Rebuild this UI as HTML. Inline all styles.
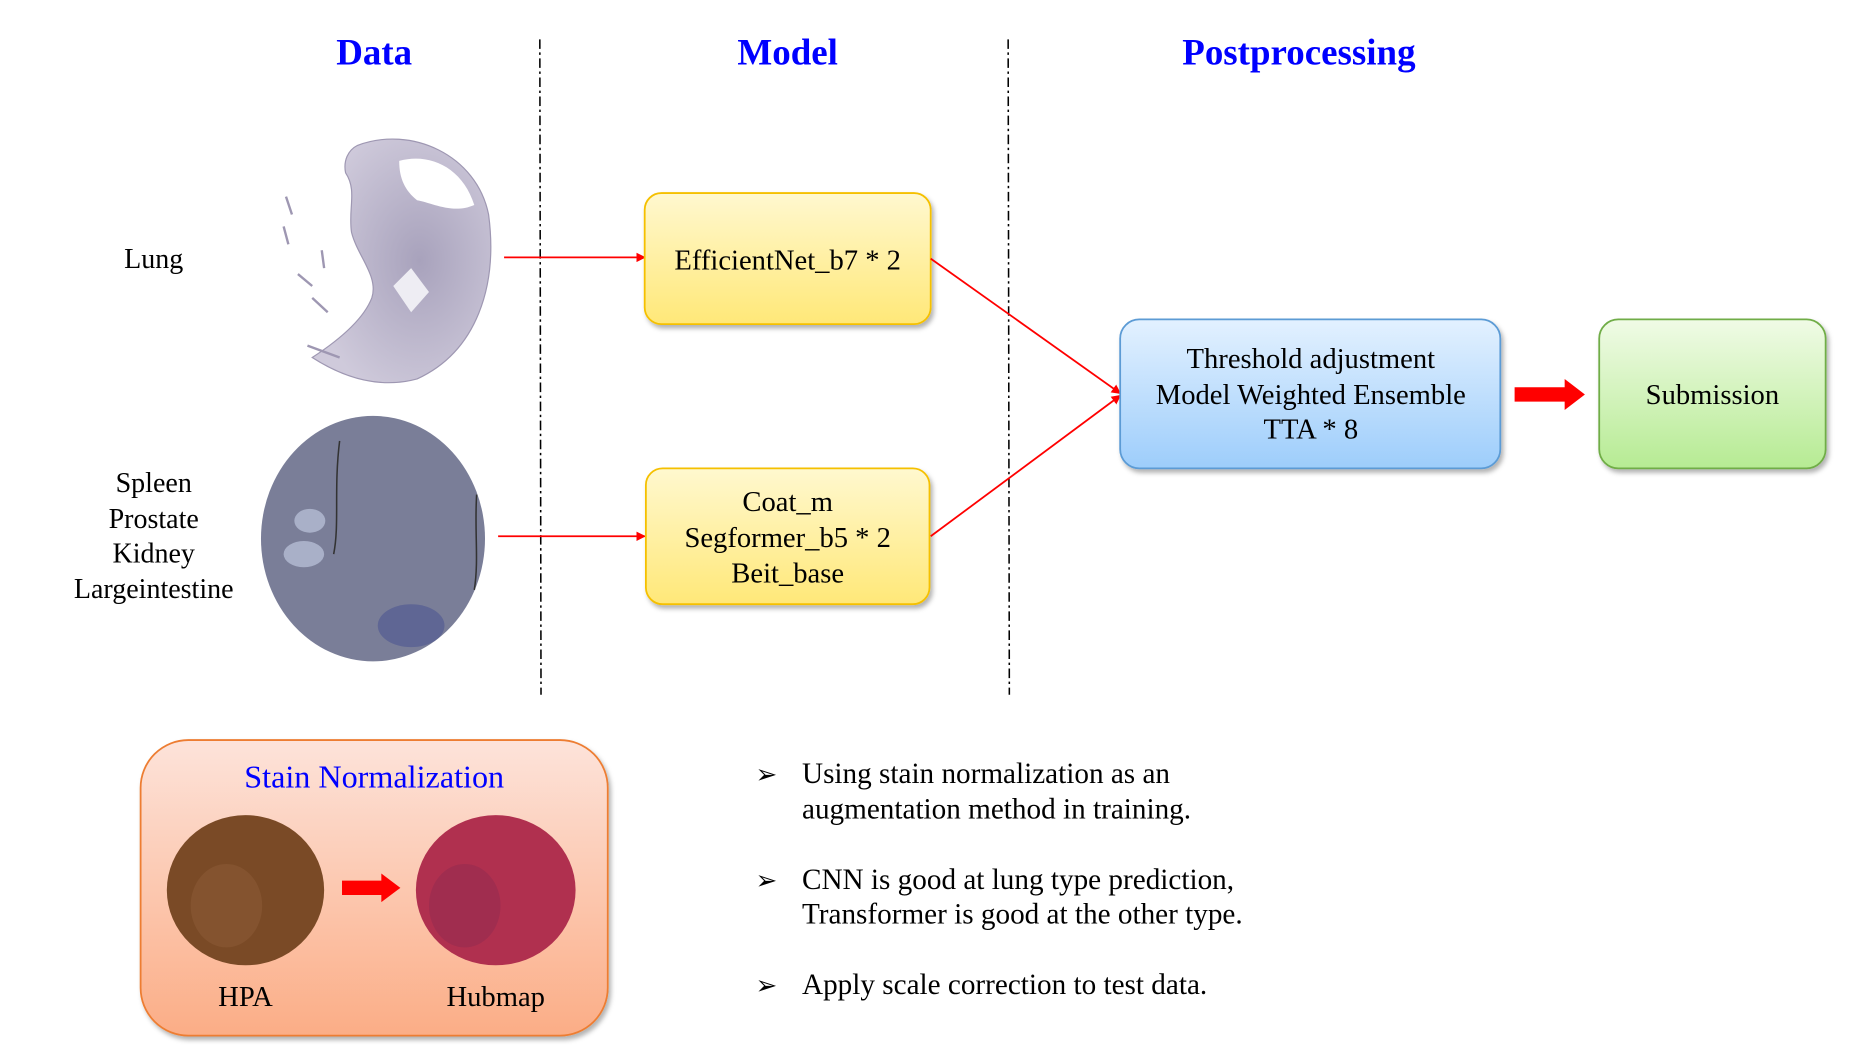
<!DOCTYPE html>
<html><head><meta charset="utf-8"><style>
html,body{margin:0;padding:0;background:#fff;}
svg{display:block;}
text{font-family:"Liberation Serif",serif;}
</style></head><body>
<svg width="1859" height="1063" viewBox="0 0 1560 892" preserveAspectRatio="none" xmlns="http://www.w3.org/2000/svg">
<defs>
<linearGradient id="gy" x1="0" y1="0" x2="0" y2="1"><stop offset="0" stop-color="#fff8cf"/><stop offset="1" stop-color="#ffe878"/></linearGradient>
<linearGradient id="gb" x1="0" y1="0" x2="0" y2="1"><stop offset="0" stop-color="#e3f1ff"/><stop offset="1" stop-color="#9dcdfb"/></linearGradient>
<linearGradient id="gg" x1="0" y1="0" x2="0" y2="1"><stop offset="0" stop-color="#f0fbe6"/><stop offset="1" stop-color="#b6eb93"/></linearGradient>
<linearGradient id="go" x1="0" y1="0" x2="0" y2="1"><stop offset="0" stop-color="#fde3da"/><stop offset="1" stop-color="#fbad86"/></linearGradient>
<radialGradient id="gl" cx="0.6" cy="0.5" r="0.6"><stop offset="0" stop-color="#a8a2bc"/><stop offset="1" stop-color="#cfcadb"/></radialGradient>
<marker id="ah" markerWidth="8" markerHeight="8" refX="7" refY="4" orient="auto" markerUnits="userSpaceOnUse"><path d="M0,0 L8,4 L0,8 z" fill="#ff0000"/></marker>
<filter id="sh" x="-10%" y="-10%" width="130%" height="130%"><feDropShadow dx="2" dy="3" stdDeviation="2" flood-color="#000" flood-opacity="0.3"/></filter>
</defs>

<text x="314" y="54" font-size="31" font-weight="bold" fill="#0000ff" text-anchor="middle">Data</text>
<text x="661" y="54" font-size="31" font-weight="bold" fill="#0000ff" text-anchor="middle">Model</text>
<text x="1090" y="54" font-size="31" font-weight="bold" fill="#0000ff" text-anchor="middle">Postprocessing</text>

<line x1="453" y1="33" x2="454" y2="583" stroke="#000" stroke-width="1.3" stroke-dasharray="8,3,2,3"/>
<line x1="846" y1="33" x2="847" y2="583" stroke="#000" stroke-width="1.3" stroke-dasharray="8,3,2,3"/>

<!-- lung tissue -->
<path d="M300,122 C345,105 400,130 410,180 C418,240 400,295 350,318 C320,326 290,318 262,300 C285,285 305,268 312,250 C318,232 300,215 295,195 C292,175 300,160 290,145 C288,135 292,126 300,122 Z" fill="url(#gl)" stroke="#9e97b2" stroke-width="1"/>
<path d="M335,135 C360,128 388,140 398,172 C380,180 362,170 350,168 C340,160 335,150 335,135Z" fill="#fff"/>
<path d="M330,240 L345,225 L360,245 L345,262 Z" fill="#eeedf3"/>
<path d="M240,165 L245,180 M238,190 L242,205 M250,230 L262,240 M258,290 L285,300 M270,210 L272,225 M262,250 L275,262" stroke="#9e97b2" stroke-width="2"/>

<!-- spleen tissue -->
<ellipse cx="313" cy="452" rx="94" ry="103" fill="#7a7e98"/>
<ellipse cx="260" cy="437" rx="13" ry="10" fill="#a9b0c8"/>
<ellipse cx="255" cy="465" rx="17" ry="11" fill="#a9b0c8"/>
<ellipse cx="345" cy="525" rx="28" ry="18" fill="#5f6694"/>
<path d="M285,370 C280,410 285,440 280,465 M400,415 C398,445 402,470 398,495" stroke="#333" stroke-width="1.3" fill="none"/>

<text font-size="23.5" fill="#000" text-anchor="middle"><tspan x="129" y="225">Lung</tspan></text>
<text font-size="23.5" fill="#000" text-anchor="middle">
<tspan x="129" y="413">Spleen</tspan><tspan x="129" y="443">Prostate</tspan><tspan x="129" y="472">Kidney</tspan><tspan x="129" y="502">Largeintestine</tspan></text>

<line x1="423" y1="216" x2="541" y2="216" stroke="#ff0000" stroke-width="1.5" marker-end="url(#ah)"/>
<line x1="418" y1="450" x2="541" y2="450" stroke="#ff0000" stroke-width="1.5" marker-end="url(#ah)"/>

<rect x="541" y="162" width="240" height="110" rx="14" fill="url(#gy)" stroke="#f5c000" stroke-width="1.5" filter="url(#sh)"/>
<text x="661" y="226" font-size="24" text-anchor="middle">EfficientNet_b7 * 2</text>
<rect x="542" y="393" width="238" height="114" rx="14" fill="url(#gy)" stroke="#f5c000" stroke-width="1.5" filter="url(#sh)"/>
<text font-size="24" text-anchor="middle"><tspan x="661" y="429">Coat_m</tspan><tspan x="661" y="459">Segformer_b5 * 2</tspan><tspan x="661" y="489">Beit_base</tspan></text>

<line x1="781" y1="217" x2="940" y2="330" stroke="#ff0000" stroke-width="1.5" marker-end="url(#ah)"/>
<line x1="781" y1="450" x2="940" y2="332" stroke="#ff0000" stroke-width="1.5" marker-end="url(#ah)"/>

<rect x="940" y="268" width="319" height="125" rx="16" fill="url(#gb)" stroke="#5b9bd5" stroke-width="1.5" filter="url(#sh)"/>
<text font-size="24" text-anchor="middle"><tspan x="1100" y="309">Threshold adjustment</tspan><tspan x="1100" y="339">Model Weighted Ensemble</tspan><tspan x="1100" y="368">TTA * 8</tspan></text>

<path d="M1271,325 L1313,325 L1313,318 L1330,331 L1313,344 L1313,337 L1271,337 Z" fill="#ff0000"/>

<rect x="1342" y="268" width="190" height="125" rx="16" fill="url(#gg)" stroke="#70ad47" stroke-width="1.5" filter="url(#sh)"/>
<text x="1437" y="339" font-size="24" text-anchor="middle">Submission</text>

<rect x="118" y="621" width="392" height="248" rx="40" fill="url(#go)" stroke="#ed7d31" stroke-width="1.5" filter="url(#sh)"/>
<text x="314" y="661" font-size="27" fill="#0000ff" text-anchor="middle">Stain Normalization</text>
<ellipse cx="206" cy="747" rx="66" ry="63" fill="#7a4a26"/>
<ellipse cx="190" cy="760" rx="30" ry="35" fill="#8a5a36" opacity="0.6"/>
<ellipse cx="416" cy="747" rx="67" ry="63" fill="#b0304f"/>
<ellipse cx="390" cy="760" rx="30" ry="35" fill="#8f2a50" opacity="0.5"/>
<path d="M287,739 L320,739 L320,733 L336,745 L320,757 L320,751 L287,751 Z" fill="#ff0000"/>
<text x="206" y="844" font-size="24" text-anchor="middle">HPA</text>
<text x="416" y="844" font-size="24" text-anchor="middle">Hubmap</text>

<g font-size="24.5">
<text x="634" y="657" font-size="22">➢</text>
<text x="673" y="657">Using stain normalization as an</text>
<text x="673" y="687">augmentation method in training.</text>
<text x="634" y="746" font-size="22">➢</text>
<text x="673" y="746">CNN is good at lung type prediction,</text>
<text x="673" y="775">Transformer is good at the other type.</text>
<text x="634" y="834" font-size="22">➢</text>
<text x="673" y="834">Apply scale correction to test data.</text>
</g>
</svg>
</body></html>
